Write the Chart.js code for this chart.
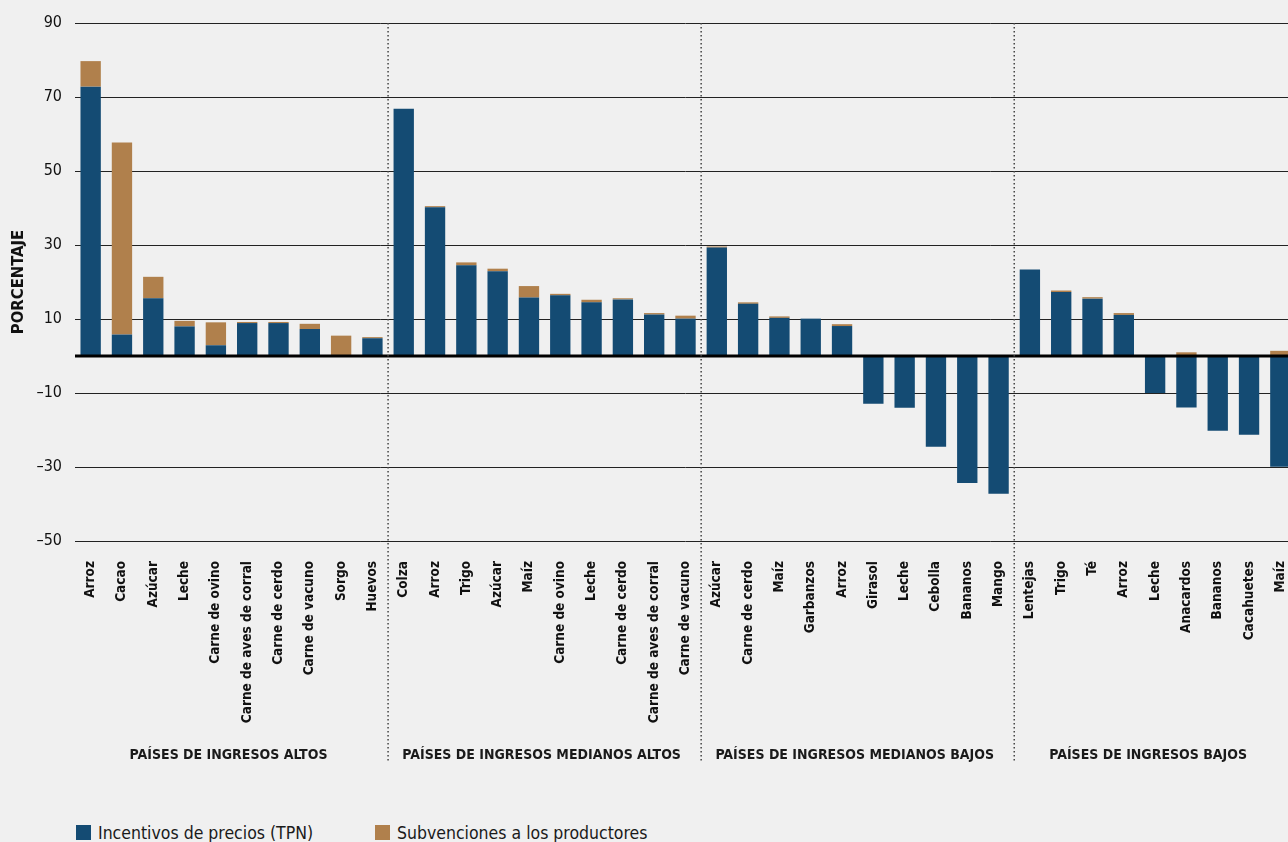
<!DOCTYPE html>
<html lang="es">
<head>
<meta charset="utf-8">
<title>Incentivos de precios y subvenciones</title>
<script src="https://cdn.jsdelivr.net/npm/chart.js@4"></script>
<style>
  html, body { margin: 0; padding: 0; background: #f0f0f0; width: 1288px; height: 842px; overflow: hidden; }
  #wrap { position: absolute; left: 0; top: 0; width: 1296px; height: 780px; }
  #legend { position: absolute; left: 76px; top: 823px; font-family: "Liberation Sans Narrow", "DejaVu Sans Condensed", sans-serif; font-size: 17.5px; color: #1a1a1a; white-space: nowrap; }
  .item { position: absolute; top: 0; }
  .sw { display: inline-block; width: 15px; height: 15px; vertical-align: -1px; margin-right: 7px; }
</style>
</head>
<body>
<div id="wrap"><canvas id="my-chart" width="1296" height="780"></canvas></div>
<div id="legend">
  <span class="item" style="left:0"><span class="sw" style="background:#144b73"></span>Incentivos de precios (TPN)</span>
  <span class="item" style="left:299px"><span class="sw" style="background:#b0804c"></span>Subvenciones a los productores</span>
</div>
<script>
'use strict';

// ******* DATA *********
let categories = [
  'Arroz', 'Cacao', 'Azúcar', 'Leche', 'Carne de ovino', 'Carne de aves de corral', 'Carne de cerdo', 'Carne de vacuno', 'Sorgo', 'Huevos',
  'Colza', 'Arroz', 'Trigo', 'Azúcar', 'Maíz', 'Carne de ovino', 'Leche', 'Carne de cerdo', 'Carne de aves de corral', 'Carne de vacuno',
  'Azúcar', 'Carne de cerdo', 'Maíz', 'Garbanzos', 'Arroz', 'Girasol', 'Leche', 'Cebolla', 'Bananos', 'Mango',
  'Lentejas', 'Trigo', 'Té', 'Arroz', 'Leche', 'Anacardos', 'Bananos', 'Cacahuetes', 'Maíz'
];

let tpnValues = [
  72.8, 5.8, 15.6, 8.0, 2.9, 8.9, 8.9, 7.3, 0, 4.8,
  66.8, 40.2, 24.5, 22.9, 15.8, 16.4, 14.5, 15.3, 11.2, 10.1,
  29.3, 14.1, 10.3, 10.1, 8.1, -12.9, -14.0, -24.5, -34.3, -37.2,
  23.4, 17.3, 15.5, 11.1, -10.0, -13.9, -20.2, -21.3, -29.9
];

let subsidyValues = [
  6.9, 51.9, 5.8, 1.5, 6.2, 0.3, 0.3, 1.4, 5.5, 0.3,
  0, 0.3, 0.8, 0.7, 3.1, 0.4, 0.7, 0.3, 0.4, 0.8,
  0.3, 0.4, 0.4, 0, 0.5, 0, 0, 0, 0, 0,
  0, 0.4, 0.4, 0.5, 0, 1.0, 0, 0, 1.4
];

let groupNames = [
  'PAÍSES DE INGRESOS ALTOS',
  'PAÍSES DE INGRESOS MEDIANOS ALTOS',
  'PAÍSES DE INGRESOS MEDIANOS BAJOS',
  'PAÍSES DE INGRESOS BAJOS'
];
let groupSizes = [10, 10, 10, 9];

let yTicks = [-50, -30, -10, 10, 30, 50, 70, 90];

// ******* STYLE *********
let fontFamily = '"Liberation Sans Narrow", "DejaVu Sans Condensed", sans-serif';
let blue = '#144b73';
let brown = '#b0804c';

// ****** PLUGIN: zero line, dotted separators, group labels ******
let extrasPlugin = {
  id: 'extras',
  afterDatasetsDraw(chart) {
    let c = chart.ctx;
    let xs = chart.scales.x;
    let ys = chart.scales.y;
    let area = chart.chartArea;
    let step = xs.getPixelForValue(1) - xs.getPixelForValue(0);

    // zero line
    let y0 = ys.getPixelForValue(0);
    c.save();
    c.strokeStyle = '#000';
    c.lineWidth = 3;
    c.beginPath();
    c.moveTo(area.left, y0);
    c.lineTo(area.right, y0);
    c.stroke();

    // separators + group labels
    let start = 0;
    c.font = 'bold 14px ' + fontFamily;
    c.fillStyle = '#1a1a1a';
    c.textAlign = 'center';
    c.textBaseline = 'middle';
    for (let i = 0; i < groupSizes.length; i++) {
      let end = start + groupSizes[i] - 1;
      let left = xs.getPixelForValue(start) - step / 2;
      let right = Math.min(xs.getPixelForValue(end) + step / 2, 1288);
      c.fillText(groupNames[i], (left + right) / 2 - 3, 755);
      if (i > 0) {
        c.strokeStyle = '#444';
        c.lineWidth = 1.5;
        c.setLineDash([1.5, 2.5]);
        c.beginPath();
        c.moveTo(left, area.top);
        c.lineTo(left, 763);
        c.stroke();
        c.setLineDash([]);
      }
      start = end + 1;
    }
    c.restore();
  }
};

// ****** CHART ******
let ctx = document.getElementById('my-chart');

let chartObj = {
  type: 'bar',
  data: {
    labels: categories,
    datasets: [{
      label: 'Incentivos de precios (TPN)',
      data: tpnValues,
      backgroundColor: blue,
      borderWidth: 0,
      barPercentage: 0.65,
      categoryPercentage: 1
    },
    {
      label: 'Subvenciones a los productores',
      data: subsidyValues,
      backgroundColor: brown,
      borderWidth: 0,
      barPercentage: 0.65,
      categoryPercentage: 1
    }]
  },
  options: {
    responsive: false,
    animation: false,
    layout: { padding: { top: 23, right: 0, bottom: 0, left: 9 } },
    scales: {
      x: {
        stacked: true,
        grid: { display: false },
        border: { display: false },
        ticks: {
          autoSkip: false,
          minRotation: 90,
          maxRotation: 90,
          padding: 12,
          color: '#111',
          font: { family: fontFamily, size: 13.5, weight: 'bold' }
        },
        afterFit(scale) {
          scale.height = 239;
          scale.paddingLeft = 0;
          scale.paddingRight = 0;
        }
      },
      y: {
        stacked: true,
        min: -50,
        max: 90,
        afterBuildTicks(scale) { scale.ticks = yTicks.map(v => ({ value: v })); },
        border: { display: false },
        grid: { color: '#222', lineWidth: 1, drawTicks: false },
        ticks: {
          padding: 13,
          color: '#111',
          font: { family: fontFamily, size: 16 },
          callback: v => String(v).replace('-', '\u2013')
        },
        title: {
          display: true,
          text: 'PORCENTAJE',
          color: '#111',
          padding: { top: 0, bottom: 4 },
          font: { family: fontFamily, size: 16.5, weight: 'bold' }
        },
        afterFit(scale) { scale.width = 66; }
      }
    },
    plugins: {
      legend: { display: false },
      tooltip: { enabled: false }
    }
  },
  plugins: [extrasPlugin]
};

new Chart(ctx, chartObj); //eslint-disable-line
</script>
</body>
</html>
